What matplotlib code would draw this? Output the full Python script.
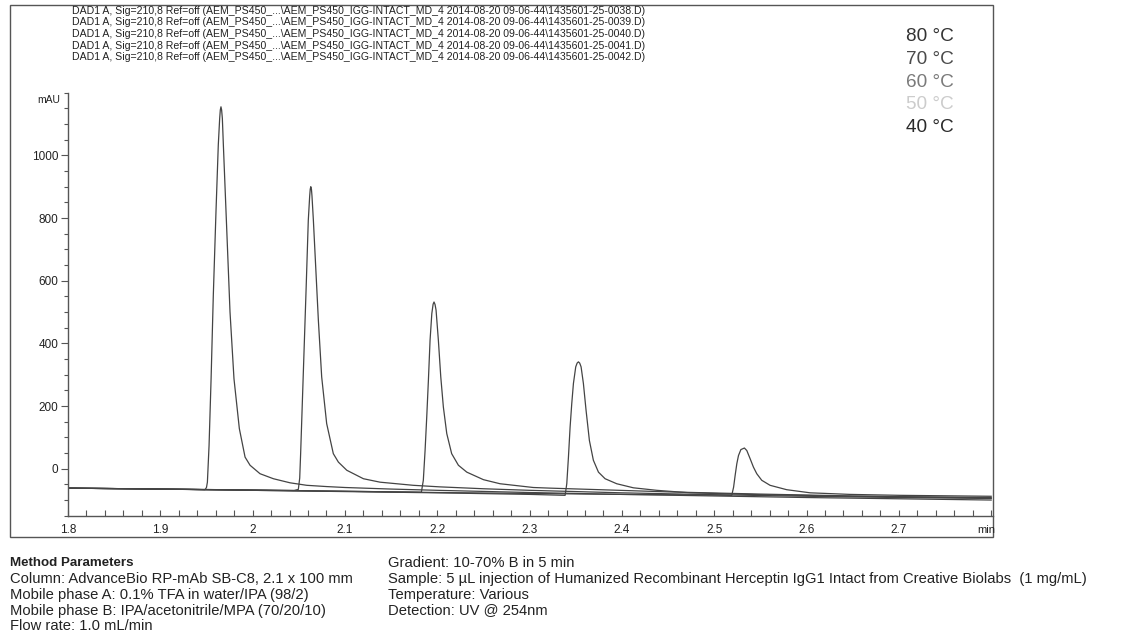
import matplotlib
matplotlib.use("Agg")
import matplotlib.pyplot as plt
from matplotlib.patches import Rectangle
from matplotlib.ticker import MultipleLocator, FixedLocator, FuncFormatter

plt.rcParams['font.family'] = ['Liberation Sans', 'DejaVu Sans']

# ---- chromatogram traces (retention time in min, signal in mAU) ----
ret_80 = [1.80, 1.85, 1.90, 1.93, 1.9484, 1.950, 1.951, 1.9528, 1.955, 1.9574,
          1.9603, 1.9628, 1.9643, 1.9650, 1.9657, 1.9664, 1.9672, 1.9683, 1.9719,
          1.9755, 1.9798, 1.9856, 1.9918, 1.9972, 2.008, 2.0225, 2.0405, 2.0586,
          2.08, 2.10, 2.15, 2.20, 2.30, 2.40, 2.50, 2.60, 2.70, 2.80]
mau_80 = [-62, -63.5, -65, -66, -67, -60, -43, 74, 287, 553,
          820, 1033, 1118, 1145, 1155, 1145, 1118, 1033, 767,
          500, 287, 128, 37, 11, -16, -32, -45, -53,
          -57, -60, -65, -69, -76, -82, -87, -92, -96, -100]

ret_70 = [1.80, 1.90, 2.00, 2.045, 2.0495, 2.051, 2.052, 2.055, 2.058, 2.0603,
          2.0618, 2.0624, 2.063, 2.0637, 2.0643, 2.0658, 2.0676, 2.0712, 2.0748,
          2.0802, 2.0874, 2.0929, 2.102, 2.120, 2.138, 2.174, 2.203, 2.25, 2.30,
          2.40, 2.50, 2.60, 2.70, 2.80]
mau_70 = [-62, -65, -68, -69.5, -66, -30, 48, 314, 580, 793,
          870, 892, 900, 892, 870, 793, 687, 474, 293,
          144, 48, 21, -5, -32, -43, -53, -58, -64, -69,
          -77, -83, -88, -92, -95]

ret_60 = [1.80, 1.90, 2.00, 2.10, 2.1828, 2.1849, 2.1868, 2.1886, 2.1904, 2.1922,
          2.1941, 2.1955, 2.1965, 2.1976, 2.1987, 2.2012, 2.2038, 2.2066, 2.2103,
          2.2156, 2.2229, 2.232, 2.250, 2.268, 2.304, 2.322, 2.376, 2.45, 2.55,
          2.65, 2.80]
mau_60 = [-62, -65, -68, -72, -75, -37, 58, 165, 282, 410,
          495, 525, 532, 524, 506, 410, 293, 197, 112,
          48, 11, -11, -35, -48, -60, -62, -67, -74, -81,
          -87, -94]

ret_50 = [1.80, 1.90, 2.00, 2.10, 2.20, 2.30, 2.3385, 2.3403, 2.3421, 2.3439,
          2.3457, 2.3475, 2.350, 2.3515, 2.3529, 2.3543, 2.3558, 2.3583, 2.3612,
          2.3648, 2.3691, 2.3746, 2.3818, 2.3944, 2.4125, 2.4378, 2.4739, 2.55,
          2.65, 2.80]
mau_50 = [-62, -65, -69, -73, -77, -82, -85, -48, 37, 133,
          208, 272, 325, 337, 341, 337, 325, 272, 186,
          90, 27, -11, -32, -48, -61, -69, -77, -83,
          -88, -92]

ret_40 = [1.80, 1.90, 2.00, 2.10, 2.20, 2.30, 2.40, 2.50, 2.519, 2.521,
          2.5227, 2.5245, 2.5263, 2.5289, 2.5327, 2.5353, 2.5389, 2.5425, 2.5461,
          2.5515, 2.5605, 2.5785, 2.604, 2.647, 2.701, 2.80]
mau_40 = [-62, -65, -69, -72, -76, -79, -82, -84, -85, -59,
          -21, 16, 42, 61, 66, 58, 32, 5, -16,
          -37, -53, -67, -77, -82, -85, -88]

traces = [(ret_80, mau_80), (ret_70, mau_70), (ret_60, mau_60),
          (ret_50, mau_50), (ret_40, mau_40)]

time_ticks = [1.8, 1.9, 2.0, 2.1, 2.2, 2.3, 2.4, 2.5, 2.6, 2.7]
mau_ticks = [0, 200, 400, 600, 800, 1000]

temp_labels = ["80 °C", "70 °C", "60 °C", "50 °C", "40 °C"]
temp_colors = ["#333333", "#4a4a4a", "#7a7a7a", "#cccccc", "#2a2a2a"]

data_files = ["0038", "0039", "0040", "0041", "0042"]
header_fmt = ("DAD1 A, Sig=210,8 Ref=off (AEM_PS450_...\\AEM_PS450_IGG-INTACT_MD_4 "
              "2014-08-20 09-06-44\\1435601-25-{}.D)")

method_left = ["Column: AdvanceBio RP-mAb SB-C8, 2.1 x 100 mm",
               "Mobile phase A: 0.1% TFA in water/IPA (98/2)",
               "Mobile phase B: IPA/acetonitrile/MPA (70/20/10)",
               "Flow rate: 1.0 mL/min"]
method_right = ["Gradient: 10-70% B in 5 min",
                "Sample: 5 µL injection of Humanized Recombinant Herceptin IgG1 Intact from Creative Biolabs  (1 mg/mL)",
                "Temperature: Various",
                "Detection: UV @ 254nm"]

# ---- figure ----
W, H = 1138, 643
fig = plt.figure(figsize=(W / 100, H / 100), dpi=100)


def fx(px):
    return px / W


def fy(py):
    return 1 - py / H


axis_col = "#555555"
text_col = "#222222"

ax = fig.add_axes([fx(68), fy(515.7), fx(993) - fx(68), fy(92.7) - fy(515.7)])
for rt, sig in traces:
    ax.plot(rt, sig, color="#444444", lw=0.9, solid_joinstyle="round")

ax.set_xlim(1.8, 2.802)
ax.set_ylim(-150, 1200)

for side in ("top", "right"):
    ax.spines[side].set_visible(False)
for side in ("left", "bottom"):
    ax.spines[side].set_color(axis_col)
    ax.spines[side].set_linewidth(1.0)

ax.xaxis.set_major_locator(FixedLocator(time_ticks))
ax.xaxis.set_minor_locator(MultipleLocator(0.02))
ax.xaxis.set_major_formatter(FuncFormatter(lambda v, p: f"{v:g}"))
ax.tick_params(axis="x", which="both", direction="in", length=4, width=0.8,
               color=axis_col, labelsize=8.5, labelcolor=text_col, pad=6)

ax.set_yticks(mau_ticks)
ax.yaxis.set_minor_locator(MultipleLocator(50))
ax.tick_params(axis="y", which="major", direction="out", length=5, width=0.8,
               color=axis_col, labelsize=8.5, labelcolor=text_col, pad=2)
ax.tick_params(axis="y", which="minor", direction="out", length=3, width=0.8,
               color=axis_col)

fig.text(fx(60), fy(100), "mAU", fontsize=7.5, color=text_col, ha="right", va="center")
fig.text(fx(995), fy(530), "min", fontsize=8, color=text_col, ha="right", va="center")

# outer frame
fig.add_artist(Rectangle((fx(10), fy(537)), fx(993) - fx(10), fy(5) - fy(537),
                         transform=fig.transFigure, fill=False, ec=axis_col, lw=1.0))

# run header lines
for i, f in enumerate(data_files):
    fig.text(fx(72), fy(10.5 + 11.7 * i), header_fmt.format(f), fontsize=7.6,
             color=text_col, ha="left", va="center")

# temperature legend
for i, (lab, col) in enumerate(zip(temp_labels, temp_colors)):
    fig.text(fx(906), fy(36.7 + 22.7 * i), lab, fontsize=13.7, color=col,
             ha="left", va="center")

# method parameters
fig.text(fx(10), fy(563), "Method Parameters", fontsize=9.6, fontweight="bold",
         color=text_col, ha="left", va="center")
for i, s in enumerate(method_left):
    fig.text(fx(10), fy(579 + 15.8 * i), s, fontsize=10.6, color=text_col,
             ha="left", va="center")
for i, s in enumerate(method_right):
    fig.text(fx(388), fy(563 + 15.8 * i), s, fontsize=10.6, color=text_col,
             ha="left", va="center")

fig.savefig("out.png", dpi=100)
